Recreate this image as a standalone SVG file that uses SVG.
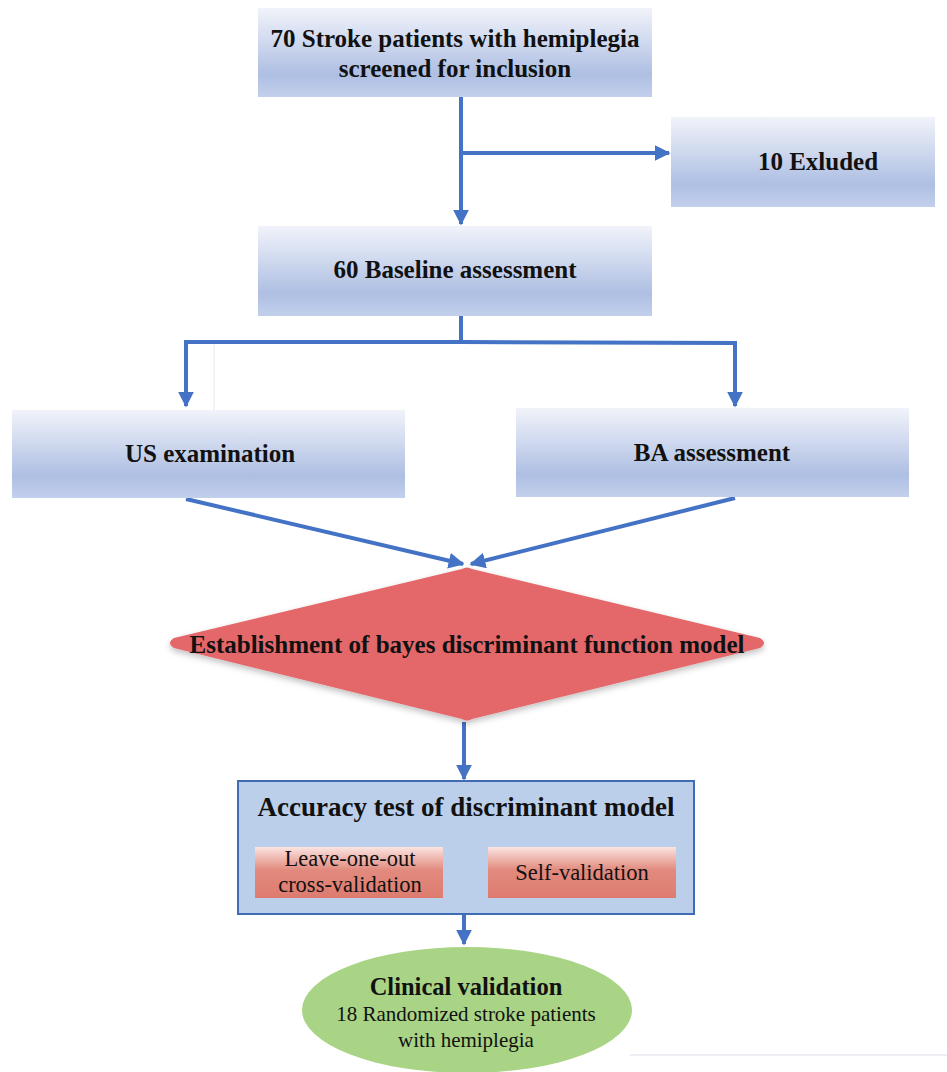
<svg xmlns="http://www.w3.org/2000/svg" width="947" height="1072" viewBox="0 0 947 1072">
<defs>
<linearGradient id="gBlue" x1="0" y1="0" x2="0" y2="1">
<stop offset="0" stop-color="#f1f3fa"/>
<stop offset="0.75" stop-color="#aebfe3"/>
<stop offset="1" stop-color="#c3d0ec"/>
</linearGradient>
<linearGradient id="gRed" x1="0" y1="0" x2="0" y2="1">
<stop offset="0" stop-color="#fbe4e1"/>
<stop offset="0.45" stop-color="#e28a7e"/>
<stop offset="1" stop-color="#de7b6f"/>
</linearGradient>
<filter id="sh" x="-10%" y="-10%" width="120%" height="130%">
<feDropShadow dx="0" dy="3" stdDeviation="3" flood-color="#000" flood-opacity="0.25"/>
</filter>
<marker id="ah" viewBox="0 0 10 10" refX="9" refY="5" markerWidth="4" markerHeight="4" orient="auto" markerUnits="strokeWidth">
<path d="M0,0 L10,5 L0,10 z" fill="#4472c4"/>
</marker>
<style>
.box{fill:url(#gBlue);}
.bt{font-weight:bold;font-size:25px;fill:#111;text-anchor:middle;}
.nt{font-size:22.5px;fill:#111;text-anchor:middle;}
.c{stroke:#4472c4;stroke-width:4;fill:none;}
</style>
</defs>
<rect width="947" height="1072" fill="#ffffff"/>
<g id="connectors">
<line class="c" x1="461" y1="97" x2="461" y2="224" marker-end="url(#ah)"/>
<line class="c" x1="461" y1="153" x2="669" y2="153" marker-end="url(#ah)"/>
<polyline class="c" points="461,316 461,342 186,342 186,406" marker-end="url(#ah)"/>
<polyline class="c" points="461,342 735,343 735,406" marker-end="url(#ah)"/>
<line class="c" x1="186" y1="499" x2="463" y2="564" marker-end="url(#ah)"/>
<line class="c" x1="735" y1="498" x2="471" y2="564" marker-end="url(#ah)"/>
<line class="c" x1="464" y1="722" x2="464" y2="779" marker-end="url(#ah)"/>
<line class="c" x1="464" y1="914" x2="464" y2="944" marker-end="url(#ah)"/>
</g>
<line x1="214" y1="344" x2="214" y2="410" stroke="#e4e8f0" stroke-width="1"/>
<line x1="630" y1="1055" x2="947" y2="1055" stroke="#e6e9f0" stroke-width="1.5"/>
<g font-family="'Liberation Serif', 'Times New Roman', serif">
<g id="n1">
<rect class="box" x="258" y="8" width="394" height="89"/>
<text class="bt" x="455" y="47">70 Stroke patients with hemiplegia</text>
<text class="bt" x="455" y="77">screened for inclusion</text>
</g>
<g id="n2">
<rect class="box" x="671" y="117" width="264" height="90"/>
<text class="bt" x="818" y="170">10 Exluded</text>
</g>
<g id="n3">
<rect class="box" x="258" y="226" width="394" height="90"/>
<text class="bt" x="455" y="278">60 Baseline assessment</text>
</g>
<g id="n4">
<rect class="box" x="12" y="410" width="393" height="88"/>
<text class="bt" x="210" y="462">US examination</text>
</g>
<g id="n5">
<rect class="box" x="516" y="408" width="393" height="89"/>
<text class="bt" x="712" y="461">BA assessment</text>
</g>
<g id="n6">
<path d="M462,569 Q467,566 472,569 L760,638 Q768,643 760,648 L472,719 Q467,722 462,719 L174,648 Q166,643 174,638 Z" fill="#e4686a" filter="url(#sh)"/>
<text class="bt" x="467" y="653">Establishment of bayes discriminant function model</text>
</g>
<g id="n7">
<rect x="238" y="781" width="456" height="133" fill="#bccfea" stroke="#3f6cb5" stroke-width="2"/>
<text class="bt" x="466" y="816" style="font-size:27px">Accuracy test of discriminant model</text>
<g id="n7a">
<rect x="255" y="847" width="188" height="51" fill="url(#gRed)"/>
<text class="nt" x="350" y="866">Leave-one-out</text>
<text class="nt" x="350" y="892">cross-validation</text>
</g>
<g id="n7b">
<rect x="488" y="847" width="188" height="51" fill="url(#gRed)"/>
<text class="nt" x="582" y="880">Self-validation</text>
</g>
</g>
<g id="n8">
<ellipse cx="467" cy="1010" rx="165" ry="63" fill="#a9d485"/>
<text class="bt" x="466" y="995" style="font-size:24.5px">Clinical validation</text>
<text class="nt" x="466" y="1021" style="font-size:21px">18 Randomized stroke patients</text>
<text class="nt" x="466" y="1047" style="font-size:21px">with hemiplegia</text>
</g>
</g>
</svg>
